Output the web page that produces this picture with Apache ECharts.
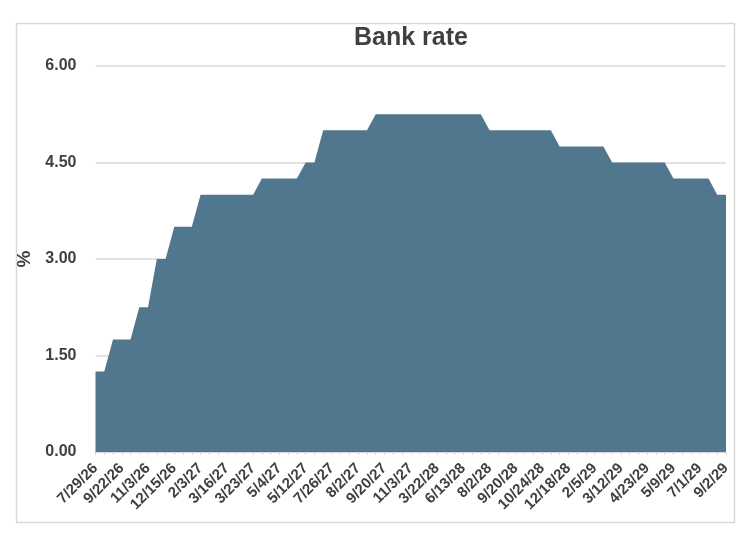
<!DOCTYPE html>
<html>
<head>
<meta charset="utf-8">
<script src="https://cdn.jsdelivr.net/npm/echarts@6/dist/echarts.min.js"></script>
<style>
html,body{margin:0;padding:0;background:#fff;}
#chart{width:752px;height:542px;}
</style>
</head>
<body>
<div id="chart"></div>
<script>
// Labels visible on the axis (every third category)
const tickLabels = ['7/29/26','9/22/26','11/3/26','12/15/26','2/3/27','3/16/27','3/23/27','5/4/27','5/12/27','7/26/27','8/2/27','9/20/27','11/3/27','3/22/28','6/13/28','8/2/28','9/20/28','10/24/28','12/18/28','2/5/29','3/12/29','4/23/29','5/9/29','7/1/29','9/2/29'];
// Bank rate (%) at each of the 73 observations
const rates = [
  1.25,1.25,
  1.75,1.75,1.75,
  2.25,2.25,
  3.00,3.00,
  3.50,3.50,3.50,
  4.00,4.00,4.00,4.00,4.00,4.00,4.00,
  4.25,4.25,4.25,4.25,4.25,
  4.50,4.50,
  5.00,5.00,5.00,5.00,5.00,5.00,
  5.25,5.25,5.25,5.25,5.25,5.25,5.25,5.25,5.25,5.25,5.25,5.25,5.25,
  5.00,5.00,5.00,5.00,5.00,5.00,5.00,5.00,
  4.75,4.75,4.75,4.75,4.75,4.75,
  4.50,4.50,4.50,4.50,4.50,4.50,4.50,
  4.25,4.25,4.25,4.25,4.25,
  4.00,4.00
];
const yTicks = [0, 1.5, 3, 4.5, 6];

const categories = rates.map((v, i) => (i % 3 === 0 ? tickLabels[i / 3] : ''));

const chart = echarts.init(document.getElementById('chart'));
chart.setOption({
  animation: false,
  backgroundColor: '#ffffff',
  title: {
    text: 'Bank rate',
    left: 406, top: 21, textAlign: 'center',
    textStyle: {fontFamily: 'Liberation Sans, Arial', fontSize: 25, fontWeight: 'bold', color: '#404040'}
  },
  graphic: [{
    type: 'rect', left: 14, top: 21, z: -1,
    shape: {width: 718, height: 499},
    style: {fill: 'none', stroke: '#d9d9d9', lineWidth: 1.5}
  }],
  grid: {left: 95.5, right: 26, top: 66, bottom: 90},
  xAxis: {
    type: 'category',
    data: categories,
    boundaryGap: false,
    axisLine: {show: true, lineStyle: {color: '#d9d9d9'}},
    axisTick: {show: true, interval: 0, length: 3, lineStyle: {color: '#d9d9d9'}},
    axisLabel: {
      interval: 2, rotate: 45, margin: 14,
      fontFamily: 'Liberation Sans, Arial', fontSize: 15, fontWeight: 'bold', color: '#404040'
    },
    splitLine: {show: false}
  },
  yAxis: {
    type: 'value',
    min: yTicks[0], max: yTicks[yTicks.length - 1], interval: 1.5,
    name: '%', nameLocation: 'middle', nameGap: 60, nameRotate: 90,
    nameTextStyle: {fontFamily: 'Liberation Sans, Arial', fontSize: 19, fontWeight: 'bold', color: '#404040'},
    axisLine: {show: false},
    axisTick: {show: false},
    axisLabel: {
      margin: 19,
      formatter: v => v.toFixed(2),
      fontFamily: 'Liberation Sans, Arial', fontSize: 16, fontWeight: 'bold', color: '#404040'
    },
    splitLine: {show: true, lineStyle: {color: '#d9d9d9', width: 1.5}}
  },
  series: [{
    type: 'line',
    data: rates,
    symbol: 'none',
    lineStyle: {width: 0},
    areaStyle: {color: '#51778f', opacity: 1},
    z: 3
  }]
});
</script>
</body>
</html>
